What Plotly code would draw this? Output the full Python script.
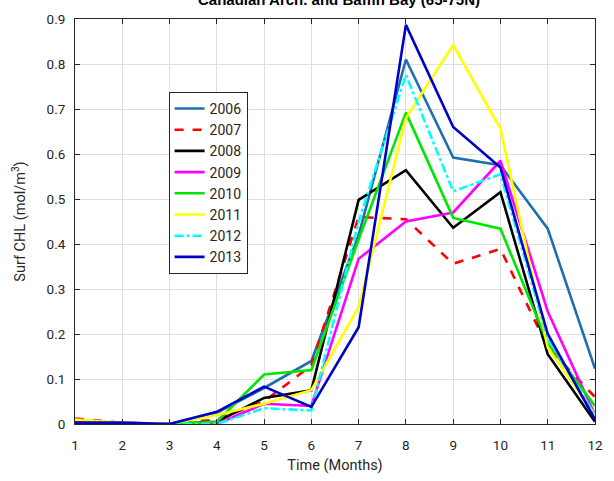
import plotly.graph_objects as go

months = list(range(1, 13))
years = ["2006", "2007", "2008", "2009", "2010", "2011", "2012", "2013"]

chl_2006 = [0.003, 0.0, 0.0, 0.025, 0.08, 0.14, 0.42, 0.81, 0.592, 0.575, 0.434, 0.123]
chl_2007 = [0.012, 0.003, 0.0, 0.01, 0.05, 0.13, 0.46, 0.455, 0.356, 0.389, 0.17, 0.06]
chl_2008 = [0.002, 0.0, 0.0, 0.005, 0.058, 0.075, 0.498, 0.564, 0.436, 0.515, 0.155, 0.005]
chl_2009 = [0.0, 0.0, 0.0, 0.0, 0.045, 0.04, 0.367, 0.45, 0.47, 0.585, 0.25, 0.02]
chl_2010 = [0.0, 0.0, 0.0, 0.005, 0.11, 0.12, 0.41, 0.692, 0.458, 0.434, 0.18, 0.04]
chl_2011 = [0.01, 0.003, 0.0, 0.02, 0.045, 0.075, 0.26, 0.68, 0.842, 0.656, 0.17, 0.02]
chl_2012 = [0.0, 0.0, 0.0, 0.0, 0.035, 0.03, 0.45, 0.776, 0.517, 0.555, 0.19, 0.02]
chl_2013 = [0.003, 0.003, 0.0, 0.027, 0.083, 0.038, 0.215, 0.887, 0.66, 0.57, 0.2, 0.01]

series = [chl_2006, chl_2007, chl_2008, chl_2009, chl_2010, chl_2011, chl_2012, chl_2013]
colors = ["#1F6FAF", "#FF0000", "#000000", "#FF00FF", "#00E600", "#FFFF00", "#00FFFF", "#0000CD"]
dashes = ["solid", "dash", "solid", "solid", "solid", "solid", "dashdot", "solid"]

yticks = [0, 0.1, 0.2, 0.3, 0.4, 0.5, 0.6, 0.7, 0.8, 0.9]
ytext = ["0", "0.1", "0.2", "0.3", "0.4", "0.5", "0.6", "0.7", "0.8", "0.9"]

FONT = "Roboto, Liberation Sans, Arial"

fig = go.Figure()
for yr, vals, c, d in zip(years, series, colors, dashes):
    fig.add_trace(go.Scatter(x=months, y=vals, mode="lines", name=yr,
                             line=dict(color=c, width=2.6, dash=d)))

axis_common = dict(showline=True, linecolor="#262626", linewidth=1, mirror="ticks",
                   ticks="inside", ticklen=5, tickcolor="#262626",
                   showgrid=True, gridcolor="#DFDFDF", gridwidth=1, zeroline=False,
                   tickfont=dict(family=FONT, size=13.5, color="#262626"),
                   title_font=dict(family=FONT, size=14.5, color="#262626"))

fig.update_xaxes(range=[1, 12], tickvals=months, title_text="Time (Months)", title_standoff=7,
                 ticklabelstandoff=9, **axis_common)
fig.update_yaxes(range=[0, 0.9], tickvals=yticks, ticktext=ytext, ticklabelstandoff=6,
                 title_text="Surf CHL (mol/m<sup>3</sup>)", title_standoff=17, **axis_common)

fig.update_layout(
    width=614, height=481,
    margin=dict(l=75, r=11, t=14, b=57),
    paper_bgcolor="white", plot_bgcolor="white",
    title=dict(text="<b>Canadian Arch. and Baffin Bay (65-75N)</b>", x=(75 + 603) / 2 / 614,
               xanchor="center", y=1.0, yanchor="middle", yref="container",
               font=dict(family="Liberation Sans, Arial", size=15, color="#000000")),
    legend=dict(x=0.18, y=0.82, xanchor="left", yanchor="top",
                bgcolor="white", bordercolor="#262626", borderwidth=1,
                font=dict(family=FONT, size=14, color="#262626"),
                tracegroupgap=0),
    showlegend=True,
)

fig.write_html("out.html")
